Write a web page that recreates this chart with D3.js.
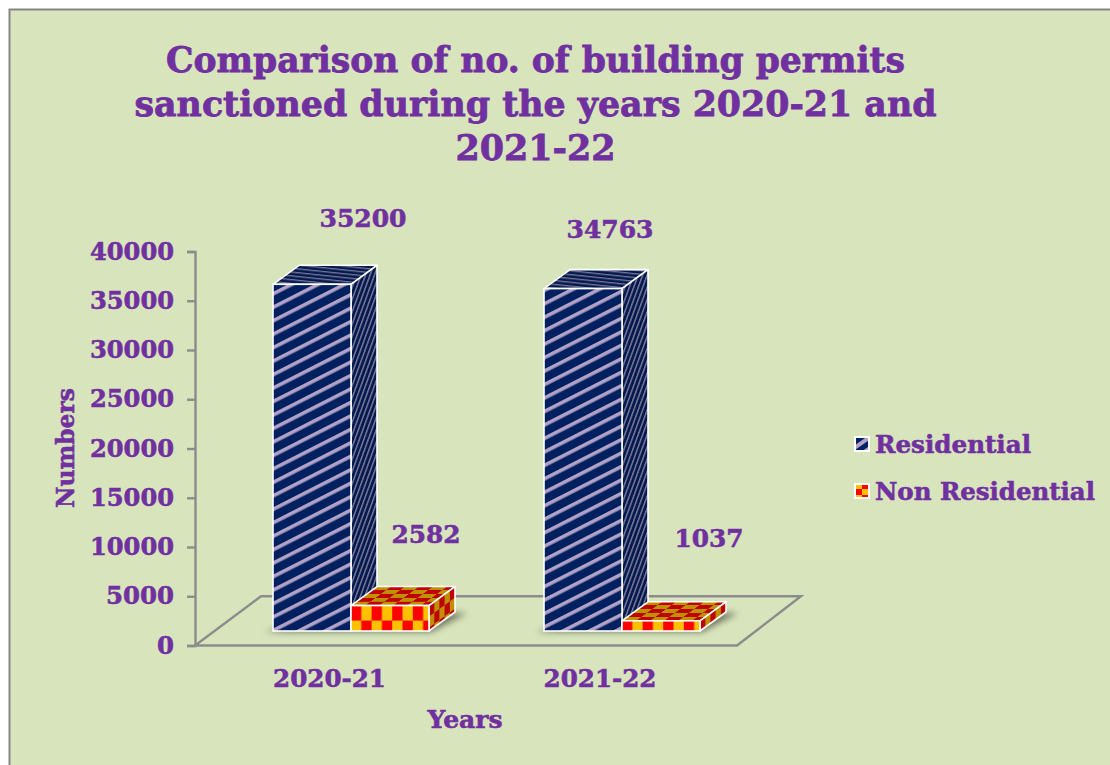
<!DOCTYPE html>
<html><head><meta charset="utf-8">
<style>html,body{margin:0;padding:0;background:#fff}svg{display:block}
text{font-family:"DejaVu Serif",serif;font-weight:bold;fill:#7030a0;stroke:#7030a0;stroke-width:.55px}</style>
<script src="https://cdn.jsdelivr.net/npm/d3@7/dist/d3.min.js"></script></head><body>
<script>
const titleLines=["Comparison of no. of building permits","sanctioned during the years 2020-21 and","2021-22"];
const categories=["2020-21","2021-22"];
const seriesNames=["Residential","Non Residential"];
const residential=[35200,34763];
const nonResidential=[2582,1037];
const yTicks=[0,5000,10000,15000,20000,25000,30000,35000,40000];
const xTitle="Years",yTitle="Numbers";

const W=1110,H=765,dx=26,dy=19;
const svg=d3.select("body").append("svg").attr("width",W).attr("height",H);
const defs=svg.append("defs");
svg.append("rect").attr("x",9.5).attr("y",9.5).attr("width",W).attr("height",H)
  .attr("fill","#d8e4bc").attr("stroke","#868686").attr("stroke-width",2);

function fitted(sel,len){return sel.attr("textLength",len).attr("lengthAdjust","spacingAndGlyphs");}

// patterns
function stripes(id,period,w,angle,bg,fg){
  const p=defs.append("pattern").attr("id",id).attr("patternUnits","userSpaceOnUse")
    .attr("width",period).attr("height",period).attr("patternTransform",`rotate(${angle})`);
  p.append("rect").attr("width",period).attr("height",period).attr("fill",bg);
  p.append("rect").attr("y",0).attr("width",period).attr("height",w).attr("fill",fg);
}
stripes("resFront",12,3.6,-27,"#002060","#b3a2c7");
stripes("resTop",3.8,1.3,6,"#001a4d","#7d7599");
stripes("resSide",4.2,1.5,-70,"#001a4d","#7d7599");
stripes("resLegend",9,4,-35,"#002060","#b3a2c7");
function checks(id,w,h,tf,a,b){
  const p=defs.append("pattern").attr("id",id).attr("patternUnits","userSpaceOnUse")
    .attr("width",2*w).attr("height",2*h).attr("patternTransform",tf);
  p.append("rect").attr("width",2*w).attr("height",2*h).attr("fill",b);
  p.append("rect").attr("width",w).attr("height",h).attr("fill",a);
  p.append("rect").attr("x",w).attr("y",h).attr("width",w).attr("height",h).attr("fill",a);
}

// scales
const y=d3.scaleLinear().domain([0,40000]).range([645.5,251.5]);
const barW=78;
const barOffset=i=>[78,349][i];
const baseY=631;

// floor
const floor=d3.path();
const fl=[195,737],fb=[261,801];
floor.moveTo(fl[0],y(0));floor.lineTo(fl[1],y(0));floor.lineTo(fb[1],y(5000));floor.lineTo(fb[0],y(5000));floor.closePath();
svg.append("path").attr("d",floor.toString()).attr("fill","none").attr("stroke","#8c8c8c").attr("stroke-width",2.4);

// axis
const axis=d3.axisLeft(y).tickValues(yTicks).tickSize(8).tickPadding(13).tickFormat(d3.format("d"));
const ga=svg.append("g").attr("transform","translate(195,0)").call(axis);
ga.select(".domain").attr("stroke","#8c8c8c").attr("stroke-width",2.4);
ga.selectAll(".tick line").attr("stroke","#8c8c8c").attr("stroke-width",2.4);
ga.selectAll(".tick text").style("font-size","24px").style("font-family",'"DejaVu Serif",serif').style("font-weight","bold").style("fill","#7030a0");
ga.selectAll(".tick text").attr("textLength",84).attr("lengthAdjust","spacingAndGlyphs");
ga.selectAll(".tick text").filter(d=>d===5000).attr("textLength",68);
ga.selectAll(".tick text").filter(d=>d===0).attr("textLength",17);

// shadow
const blur=defs.append("filter").attr("id","soft").attr("x","-30%").attr("y","-60%").attr("width","160%").attr("height","220%");
blur.append("feGaussianBlur").attr("stdDeviation",3);

function box(g,left,top,id){
  const right=left+barW;
  const poly=a=>a.map(p=>p.join(",")).join(" ");
  g.append("polygon").attr("points",poly([[left,top],[right,top],[right+dx,top-dy],[left+dx,top-dy]]))
    .attr("fill",`url(#${id}Top)`).attr("stroke","#fff").attr("stroke-width",1.6).attr("stroke-linejoin","round");
  g.append("polygon").attr("points",poly([[right,top],[right+dx,top-dy],[right+dx,baseY-dy],[right,baseY]]))
    .attr("fill",`url(#${id}Side)`).attr("stroke","#fff").attr("stroke-width",1.6).attr("stroke-linejoin","round");
  g.append("rect").attr("x",left).attr("y",top).attr("width",barW).attr("height",baseY-top)
    .attr("fill",`url(#${id}Front)`).attr("stroke","#fff").attr("stroke-width",1.6);
}
const barsG=svg.append("g");
categories.forEach((c,i)=>{
  const left=195+barOffset(i);
  barsG.append("polygon").attr("points",`${left-8},${baseY+1} ${left+2*barW+2},${baseY+1} ${left+2*barW+dx+12},${baseY-dy+1} ${left+2*barW+8},${baseY-dy+1} ${left+10},${baseY-4}`)
    .attr("fill","#5f6550").attr("opacity",.85).attr("filter","url(#soft)");
  const topR=baseY-(y(0)-y(residential[i]));
  const gid="r"+i;
  ["Front","Top","Side"].forEach(f=>{
    const src=d3.select("#res"+f).node().cloneNode(true);
    src.id=gid+f; defs.node().appendChild(src);
  });
  box(barsG.append("g"),left,topR,gid);
  const left2=left+barW;
  const topN=baseY-(y(0)-y(nonResidential[i]));
  const nid="n"+i;
  checks(nid+"Front",10.3,15,`translate(${left2},${topN})`,"#ff0000","#ffc000");
  checks(nid+"Top",14,3.9,`translate(${left2},${topN}) matrix(1 0 -1.37 1 0 0)`,"#c00000","#bf9000");
  checks(nid+"Side",5.2,11,`translate(${left2+barW},${topN}) matrix(1 -0.73 0 1 0 0)`,"#c00000","#bf9000");
  box(barsG.append("g"),left2,topN,nid);
});

// value labels
const valuePos=[[[363,227],[426,543]],[[610,238],[709,547]]];
[residential,nonResidential].forEach((vals,s)=>vals.forEach((v,i)=>{
  const t=svg.append("text").attr("x",valuePos[i][s][0]).attr("y",valuePos[i][s][1]).attr("text-anchor","middle").style("font-size","24px").text(v);
  fitted(t,s===0?87:69);
}));

// title
const titleBase=[[72,739],[116,802],[160,160]];
titleLines.forEach((l,i)=>{
  const t=svg.append("text").attr("x",535.5).attr("y",titleBase[i][0]).attr("text-anchor","middle").style("font-size","36px").style("stroke-width",".8px").text(l);
  fitted(t,titleBase[i][1]);
});

// category labels
categories.forEach((c,i)=>{
  fitted(svg.append("text").attr("x",[329.5,600][i]).attr("y",687).attr("text-anchor","middle").style("font-size","24px").text(c),113);
});
fitted(svg.append("text").attr("x",465).attr("y",728).attr("text-anchor","middle").style("font-size","24px").text(xTitle),75);
fitted(svg.append("text").attr("transform","translate(74,448) rotate(-90)").attr("text-anchor","middle").style("font-size","24px").text(yTitle),120);

// legend
const legendFill=["url(#resLegend)","url(#legN)"];
checks("legN",7,6,"translate(855,489)","#ff0000","#ffc000");
seriesNames.forEach((n,i)=>{
  const cy=[444,491][i];
  svg.append("rect").attr("x",855).attr("y",cy-7).attr("width",14).attr("height",14)
    .attr("fill",legendFill[i]).attr("stroke","#fff").attr("stroke-width",2);
  fitted(svg.append("text").attr("x",875).attr("y",cy+9).style("font-size","24px").text(n),[156,220][i]);
});
</script></body></html>
